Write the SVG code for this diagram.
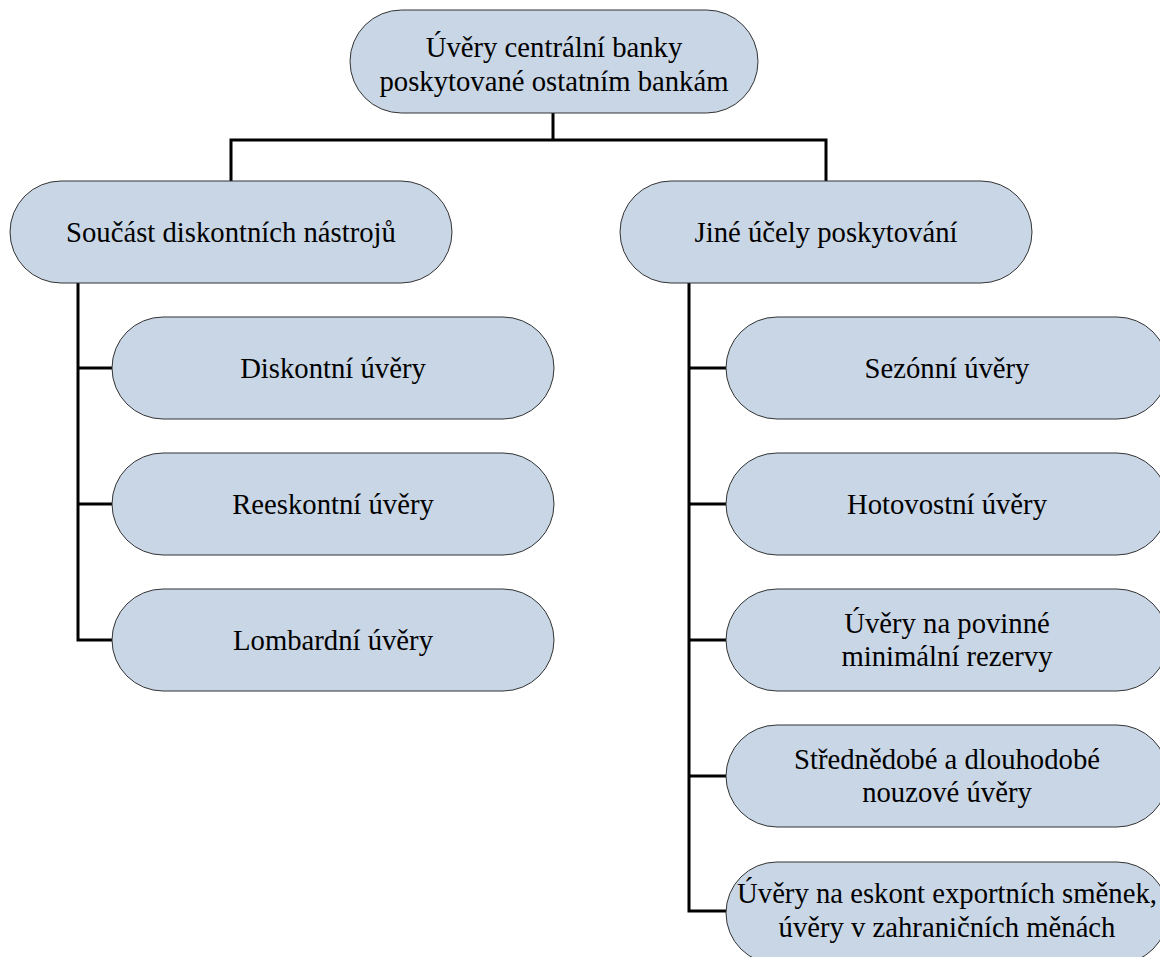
<svg xmlns="http://www.w3.org/2000/svg" width="1160" height="957" viewBox="0 0 1160 957">
  <style>
    .box { fill: #c9d6e5; stroke: #333333; stroke-width: 1; }
    .lbl { font-family: "Liberation Serif", "Times New Roman", serif; font-size: 28.7px; fill: #000000; text-anchor: middle; }
    .wire { fill: none; stroke: #000000; stroke-width: 3; stroke-linejoin: miter; }
  </style>

  <rect width="1160" height="957" fill="#ffffff"/>

  <!-- tree connectors -->
  <g id="connectors">
    <path class="wire" d="M553,113 V140"/>
    <path class="wire" d="M231,181 V140 H826 V181"/>
    <path class="wire" d="M78,283 V640 H112"/>
    <path class="wire" d="M78,368 H112 M78,504 H112"/>
    <path class="wire" d="M689,283 V911 H726"/>
    <path class="wire" d="M689,368 H726 M689,504 H726 M689,640 H726 M689,776 H726"/>
  </g>

  <!-- root -->
  <g id="root">
    <rect class="box" x="350" y="10" width="408" height="103" rx="51.5" ry="51.5"/>
    <text class="lbl" x="554" y="57">Úvěry centrální banky</text>
    <text class="lbl" x="554" y="91">poskytované ostatním bankám</text>
  </g>

  <!-- left branch -->
  <g id="discount-tools">
    <rect class="box" x="10" y="181" width="442" height="102" rx="51" ry="51"/>
    <text class="lbl" x="231" y="242">Součást diskontních nástrojů</text>
  </g>
  <g id="discount-loans">
    <rect class="box" x="112" y="317" width="442" height="102" rx="51" ry="51"/>
    <text class="lbl" x="333" y="378">Diskontní úvěry</text>
  </g>
  <g id="rediscount-loans">
    <rect class="box" x="112" y="453" width="442" height="102" rx="51" ry="51"/>
    <text class="lbl" x="333" y="514">Reeskontní úvěry</text>
  </g>
  <g id="lombard-loans">
    <rect class="box" x="112" y="589" width="442" height="102" rx="51" ry="51"/>
    <text class="lbl" x="333" y="650">Lombardní úvěry</text>
  </g>

  <!-- right branch -->
  <g id="other-purposes">
    <rect class="box" x="620" y="181" width="412" height="102" rx="51" ry="51"/>
    <text class="lbl" x="826" y="242">Jiné účely poskytování</text>
  </g>
  <g id="seasonal-loans">
    <rect class="box" x="726" y="317" width="442" height="102" rx="51" ry="51"/>
    <text class="lbl" x="947" y="378">Sezónní úvěry</text>
  </g>
  <g id="cash-loans">
    <rect class="box" x="726" y="453" width="442" height="102" rx="51" ry="51"/>
    <text class="lbl" x="947" y="514">Hotovostní úvěry</text>
  </g>
  <g id="reserve-loans">
    <rect class="box" x="726" y="589" width="442" height="102" rx="51" ry="51"/>
    <text class="lbl" x="947" y="633">Úvěry na povinné</text>
    <text class="lbl" x="947" y="666">minimální rezervy</text>
  </g>
  <g id="emergency-loans">
    <rect class="box" x="726" y="725" width="442" height="102" rx="51" ry="51"/>
    <text class="lbl" x="947" y="769">Střednědobé a dlouhodobé</text>
    <text class="lbl" x="947" y="802">nouzové úvěry</text>
  </g>
  <g id="export-loans">
    <rect class="box" x="726" y="862" width="442" height="102" rx="51" ry="51"/>
    <text class="lbl" x="947" y="903">Úvěry na eskont exportních směnek,</text>
    <text class="lbl" x="947" y="937">úvěry v zahraničních měnách</text>
  </g>
</svg>
